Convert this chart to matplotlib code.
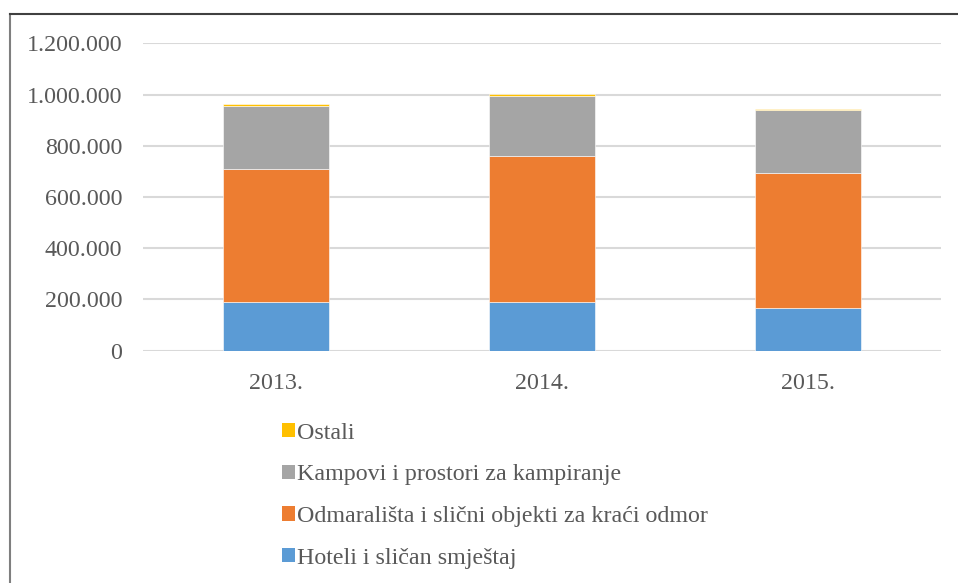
import numpy as np
import matplotlib.pyplot as plt
from matplotlib.patches import Patch
from matplotlib.lines import Line2D
from matplotlib.ticker import FuncFormatter

years = ['2013.', '2014.', '2015.']
hoteli = [188700, 188700, 165300]
odmaralista = [520000, 570000, 527000]
kampovi = [247000, 237000, 245600]
ostali = [7000, 6500, 5100]

labels = ['Hoteli i sličan smještaj',
          'Odmarališta i slični objekti za kraći odmor',
          'Kampovi i prostori za kampiranje',
          'Ostali']
colors = ['#5B9BD5', '#ED7D31', '#A5A5A5', '#FFC000']
series = [hoteli, odmaralista, kampovi, ostali]

plt.rcParams['font.family'] = ['Liberation Serif', 'DejaVu Serif']
txt = '#595959'

fig = plt.figure(figsize=(9.58, 5.83), dpi=100)
ax = fig.add_axes([143 / 958, 1 - 350.7 / 583, 798 / 958, 307.4 / 583])

x = np.arange(len(years))
bottom = np.zeros(len(years))
for vals, c, lab in zip(series, colors, labels):
    ax.bar(x, vals, 0.4, bottom=bottom, color=c, label=lab,
           edgecolor='white', linewidth=0.4, zorder=3)
    bottom += np.array(vals)

ax.set_xlim(-0.5, 2.5)
ax.set_ylim(0, 1200000)
ax.set_yticks(np.arange(0, 1200001, 200000))
ax.yaxis.set_major_formatter(FuncFormatter(lambda v, p: f'{int(v):,}'.replace(',', '.')))
ax.set_xticks(x)
ax.set_xticklabels(years)
ax.grid(axis='y', color='#d9d9d9', linewidth=1.5, zorder=0)
for s in ax.spines.values():
    s.set_visible(False)
ax.tick_params(axis='both', length=0, labelsize=17.3, colors=txt)
ax.tick_params(axis='y', pad=15)
ax.tick_params(axis='x', pad=16)

handles = [Patch(facecolor=c) for c in colors][::-1]
leg = fig.legend(handles, labels[::-1], loc='upper left',
                 bbox_to_anchor=(272 / 958, 1 - 413 / 583), frameon=False,
                 fontsize=17.3, handlelength=0.55, handleheight=0.55,
                 handletextpad=0.1, labelspacing=0.86, borderaxespad=0)
for t in leg.get_texts():
    t.set_color(txt)

# outer frame (left and top edges only are visible)
fig.add_artist(Line2D([10 / 958, 10 / 958], [0, 1 - 14 / 583],
                      color='#7f7f7f', linewidth=1.5))
fig.add_artist(Line2D([10 / 958, 1], [1 - 14 / 583, 1 - 14 / 583],
                      color='#404040', linewidth=1.5))

fig.savefig('out.png', dpi=100)
